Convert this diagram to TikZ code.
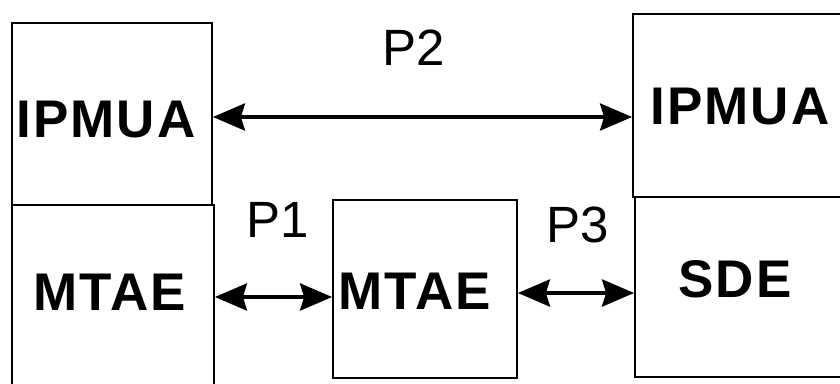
\documentclass[tikz,border=0pt]{standalone}
\usepackage{fontspec}
\setmainfont{Liberation Sans}
\usetikzlibrary{arrows.meta}
\begin{document}
\begin{tikzpicture}[x=1pt,y=-1pt,
  unit/.style={draw=black,line width=1.8pt,rectangle,inner sep=0pt},
  unitname/.style={inner sep=0pt,font=\fontsize{53}{60}\selectfont\bfseries\addfontfeature{LetterSpace=4}},
  plabel/.style={inner sep=0pt,font=\fontsize{51}{60}\selectfont},
  link/.style={line width=3.8pt,{Stealth[length=32pt,width=27pt,inset=4pt]}-{Stealth[length=32pt,width=27pt,inset=4pt]}}]
\useasboundingbox (0,0) rectangle (840,383);
\clip (0,0) rectangle (840,383);
\fill[white] (0,0) rectangle (840,383);
% left stack
\node[unit,minimum width=200pt,minimum height=182pt] (lipm) at (112,114) {};
\node[unit,minimum width=202pt,minimum height=200pt] (lmt) at (113,305) {};
% middle entity
\node[unit,minimum width=184pt,minimum height=178pt] (mmt) at (425,289) {};
% right stack
\node[unit,minimum width=240pt,minimum height=183pt] (ripm) at (753,105.5) {};
\node[unit,minimum width=240pt,minimum height=180pt] (rsde) at (755,287) {};
% entity names
\node[unitname] (tlipm) at (106,120) {IPMUA};
\node[unitname] (tlmt) at (110,292) {MTAE};
\node[unitname] (tmmt) at (415,291) {MTAE};
\node[unitname] (tripm) at (740,107) {IPMUA};
\node[unitname] (trsde) at (735,279) {SDE};
% protocol labels
\node[plabel] (p2) at (414,48) {P2};
\node[plabel] (p1) at (278,220) {P1};
\node[plabel] (p3) at (578,225) {P3};
% protocol links
\draw[link] (lipm.east |- 0,117) -- (ripm.west |- 0,117);
\draw[link] (lmt.east |- 0,297) -- (mmt.west |- 0,297);
\draw[link] (mmt.east |- 0,293) -- (rsde.west |- 0,293);
\end{tikzpicture}
\end{document}
